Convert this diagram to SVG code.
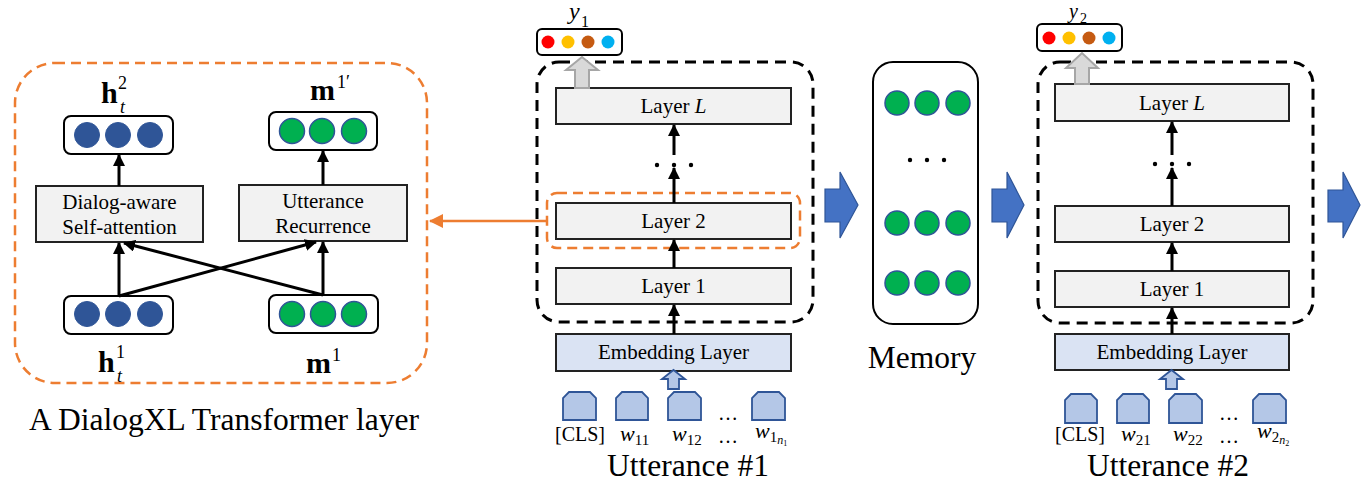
<svg xmlns="http://www.w3.org/2000/svg" width="1372" height="492" viewBox="0 0 1372 492" font-family="'Liberation Serif', 'DejaVu Serif', serif">
  <style>
    text { font-family: 'Liberation Serif', 'DejaVu Serif', serif; fill: #000; }
    .lbl { font-size: 21px; text-anchor: middle; }
    .big { font-size: 31.5px; text-anchor: middle; }
    .math { font-size: 30px; font-weight: bold; }
    .sup { font-size: 18px; font-weight: normal; }
    .vec { fill: #fff; stroke: #000; stroke-width: 2; }
    .layer { fill: #f2f2f2; stroke: #222; stroke-width: 2; }
    .embed { fill: #dae3f3; stroke: #222; stroke-width: 2; }
    .blue { fill: #2f5597; stroke: #2f5597; }
    .green { fill: #00b050; stroke: #2f5597; stroke-width: 1.5; }
    .token { fill: #b4c7e7; stroke: #2f5597; stroke-width: 1.8; }
    .conn { stroke: #000; stroke-width: 3; fill: none; marker-end: url(#ah); }
    .dash-o { fill: none; stroke: #ed7d31; stroke-width: 2.5; stroke-dasharray: 10 6; }
    .dash-k { fill: none; stroke: #000; stroke-width: 3; stroke-dasharray: 11 7; }
    .flow { fill: #4472c4; stroke: #2f5597; stroke-width: 1.2; }
    .gray { fill: #d9d9d9; stroke: #a6a6a6; stroke-width: 2; }
  </style>
  <defs>
    <marker id="ah" markerUnits="userSpaceOnUse" markerWidth="12" markerHeight="12" refX="11" refY="6" orient="auto">
      <path d="M0,0 L12,6 L0,12 Z" fill="#000"/>
    </marker>
    <marker id="ah-o" markerUnits="userSpaceOnUse" markerWidth="14" markerHeight="14" refX="13" refY="7" orient="auto">
      <path d="M0,0 L14,7 L0,14 Z" fill="#ed7d31"/>
    </marker>
  </defs>

  <!-- DialogXL transformer layer detail -->
  <g id="layer-detail">
    <rect class="dash-o" x="15" y="63" width="412" height="320" rx="40"/>
    <text class="big" x="224" y="430" font-size="32">A DialogXL Transformer layer</text>
  </g>

  <g id="h2">
    <rect class="vec" x="64" y="116" width="109" height="38" rx="7"/>
    <circle class="blue" cx="87" cy="135" r="12.5"/>
    <circle class="blue" cx="118" cy="135" r="12.5"/>
    <circle class="blue" cx="150" cy="135" r="12.5"/>
    <text class="math" x="101" y="103">h</text>
    <text class="sup" x="118" y="89">2</text>
    <text class="sup" x="120" y="113" font-style="italic">t</text>
  </g>

  <g id="m1p">
    <rect class="vec" x="269" y="112" width="108" height="38" rx="7"/>
    <circle class="green" cx="292" cy="131" r="12.5"/>
    <circle class="green" cx="322" cy="131" r="12.5"/>
    <circle class="green" cx="354" cy="131" r="12.5"/>
    <text class="math" x="310" y="100">m</text>
    <text class="sup" x="337" y="88">1′</text>
  </g>

  <g id="self-attn">
    <rect class="layer" x="36" y="186" width="167" height="56"/>
    <text class="lbl" x="119.5" y="209">Dialog-aware</text>
    <text class="lbl" x="119.5" y="234">Self-attention</text>
  </g>

  <g id="recurrence">
    <rect class="layer" x="239" y="185" width="168" height="56"/>
    <text class="lbl" x="323" y="208">Utterance</text>
    <text class="lbl" x="323" y="233">Recurrence</text>
  </g>

  <g id="h1">
    <rect class="vec" x="64" y="296" width="109" height="38" rx="7"/>
    <circle class="blue" cx="87" cy="314" r="12.5"/>
    <circle class="blue" cx="118" cy="314" r="12.5"/>
    <circle class="blue" cx="150" cy="314" r="12.5"/>
    <text class="math" x="98" y="372">h</text>
    <text class="sup" x="116" y="358">1</text>
    <text class="sup" x="117" y="382" font-style="italic">t</text>
  </g>

  <g id="m1">
    <rect class="vec" x="269" y="295" width="109" height="38" rx="7"/>
    <circle class="green" cx="292" cy="314" r="12.5"/>
    <circle class="green" cx="323" cy="314" r="12.5"/>
    <circle class="green" cx="354" cy="314" r="12.5"/>
    <text class="math" x="306" y="373">m</text>
    <text class="sup" x="332" y="361">1</text>
  </g>

  <!-- Utterance #1 encoder -->
  <g id="y1">
    <rect class="vec" x="537" y="29" width="85" height="26" rx="5"/>
    <circle cx="548" cy="42" r="6.5" fill="#ff0000"/>
    <circle cx="568" cy="42" r="6.5" fill="#ffc000"/>
    <circle cx="588" cy="42" r="6.5" fill="#c55a11"/>
    <circle cx="608" cy="42" r="6.5" fill="#00b0f0"/>
    <text x="569" y="19" font-size="24" font-style="italic">y</text>
    <text x="581" y="27" font-size="16">1</text>
  </g>
  <g id="stack1">
    <rect class="dash-k" x="537" y="62" width="276" height="260" rx="22"/>
    <rect class="dash-o" x="547" y="193" width="253" height="55" rx="10"/>
  </g>
  <g id="layerL-1">
    <rect class="layer" x="556" y="88" width="235" height="36"/>
    <text class="lbl" x="673.5" y="113">Layer <tspan font-style="italic">L</tspan></text>
  </g>
  <g id="layer2-1">
    <rect class="layer" x="556" y="203" width="235" height="36"/>
    <text class="lbl" x="673.5" y="228">Layer 2</text>
  </g>
  <g id="layer1-1">
    <rect class="layer" x="556" y="268" width="235" height="36"/>
    <text class="lbl" x="673.5" y="293">Layer 1</text>
  </g>
  <g id="embed-1">
    <rect class="embed" x="556" y="334" width="235" height="37"/>
    <text class="lbl" x="673.5" y="359">Embedding Layer</text>
  </g>
  <g id="tokens-1">
    <path class="token" d="M563,420 V398 L569,392 H590 L596,398 V420 Z"/>
    <path class="token" d="M616,420 V398 L622,392 H642 L648,398 V420 Z"/>
    <path class="token" d="M668,420 V398 L674,392 H695 L701,398 V420 Z"/>
    <path class="token" d="M752,420 V398 L758,392 H779 L785,398 V420 Z"/>
    <text x="728" y="420" font-size="20" text-anchor="middle">…</text>
    <text x="728" y="443" font-size="20" text-anchor="middle">…</text>
    <text x="580" y="441" font-size="20" text-anchor="middle">[CLS]</text>
    <text x="620" y="441" font-size="22" font-style="italic">w<tspan font-size="15" font-style="normal" dy="4">11</tspan></text>
    <text x="672" y="441" font-size="22" font-style="italic">w<tspan font-size="15" font-style="normal" dy="4">12</tspan></text>
    <text x="755" y="438" font-size="22" font-style="italic">w<tspan font-size="15" font-style="normal" dy="4">1</tspan><tspan font-size="12" dy="2">n</tspan><tspan font-size="8" font-style="normal" dy="2">1</tspan></text>
    <text class="big" x="688" y="476">Utterance #1</text>
  </g>

  <!-- Memory -->
  <g id="memory">
    <rect class="vec" x="873" y="62" width="105" height="262" rx="20"/>
    <circle class="green" cx="897" cy="103" r="12"/>
    <circle class="green" cx="927" cy="103" r="12"/>
    <circle class="green" cx="958" cy="103" r="12"/>
    <circle cx="910" cy="160" r="2.2"/>
    <circle cx="927" cy="160" r="2.2"/>
    <circle cx="944" cy="160" r="2.2"/>
    <circle class="green" cx="897" cy="223" r="12"/>
    <circle class="green" cx="927" cy="223" r="12"/>
    <circle class="green" cx="958" cy="223" r="12"/>
    <circle class="green" cx="897" cy="283" r="12"/>
    <circle class="green" cx="927" cy="283" r="12"/>
    <circle class="green" cx="958" cy="283" r="12"/>
    <text class="big" x="922" y="368">Memory</text>
  </g>

  <!-- Utterance #2 encoder -->
  <g id="y2">
    <rect class="vec" x="1037" y="24" width="85" height="27" rx="5"/>
    <circle cx="1049" cy="38" r="6.5" fill="#ff0000"/>
    <circle cx="1069" cy="38" r="6.5" fill="#ffc000"/>
    <circle cx="1089" cy="38" r="6.5" fill="#c55a11"/>
    <circle cx="1109" cy="38" r="6.5" fill="#00b0f0"/>
    <text x="1069" y="18" font-size="20" font-style="italic">y</text>
    <text x="1080" y="23" font-size="14">2</text>
  </g>
  <g id="stack2">
    <rect class="dash-k" x="1038" y="62" width="275" height="261" rx="22"/>
  </g>
  <g id="layerL-2">
    <rect class="layer" x="1055" y="84" width="234" height="37"/>
    <text class="lbl" x="1172" y="110">Layer <tspan font-style="italic">L</tspan></text>
  </g>
  <g id="layer2-2">
    <rect class="layer" x="1055" y="206" width="234" height="36"/>
    <text class="lbl" x="1172" y="231">Layer 2</text>
  </g>
  <g id="layer1-2">
    <rect class="layer" x="1055" y="271" width="234" height="36"/>
    <text class="lbl" x="1172" y="296">Layer 1</text>
  </g>
  <g id="embed-2">
    <rect class="embed" x="1055" y="334" width="234" height="36"/>
    <text class="lbl" x="1172" y="359">Embedding Layer</text>
  </g>
  <g id="tokens-2">
    <path class="token" d="M1065,423 V400 L1071,394 H1091 L1097,400 V423 Z"/>
    <path class="token" d="M1117,423 V400 L1123,394 H1143 L1149,400 V423 Z"/>
    <path class="token" d="M1169,423 V400 L1175,394 H1196 L1202,400 V423 Z"/>
    <path class="token" d="M1253,423 V400 L1259,394 H1280 L1286,400 V423 Z"/>
    <text x="1229" y="420" font-size="20" text-anchor="middle">…</text>
    <text x="1229" y="443" font-size="20" text-anchor="middle">…</text>
    <text x="1080" y="441" font-size="20" text-anchor="middle">[CLS]</text>
    <text x="1121" y="441" font-size="22" font-style="italic">w<tspan font-size="15" font-style="normal" dy="4">21</tspan></text>
    <text x="1173" y="441" font-size="22" font-style="italic">w<tspan font-size="15" font-style="normal" dy="4">22</tspan></text>
    <text x="1257" y="438" font-size="22" font-style="italic">w<tspan font-size="15" font-style="normal" dy="4">2</tspan><tspan font-size="12" dy="2">n</tspan><tspan font-size="8" font-style="normal" dy="2">2</tspan></text>
    <text class="big" x="1168" y="476">Utterance #2</text>
  </g>

  <!-- connectors -->
  <g id="connectors">
    <!-- inside the transformer layer -->
    <line class="conn" x1="119" y1="296" x2="119" y2="243"/>
    <line class="conn" x1="119" y1="296" x2="316" y2="242"/>
    <line class="conn" x1="323" y1="295" x2="124" y2="243"/>
    <line class="conn" x1="323" y1="295" x2="323" y2="242"/>
    <line class="conn" x1="119" y1="186" x2="119" y2="155"/>
    <line class="conn" x1="323" y1="185" x2="323" y2="151"/>
    <!-- detail callout -->
    <line x1="547" y1="221" x2="430" y2="221" stroke="#ed7d31" stroke-width="2.5" marker-end="url(#ah-o)"/>

    <!-- stack 1 -->
    <line class="conn" x1="674" y1="334" x2="674" y2="305"/>
    <line class="conn" x1="674" y1="268" x2="674" y2="240"/>
    <line class="conn" x1="674" y1="203" x2="674" y2="168"/>
    <line class="conn" x1="674" y1="155" x2="674" y2="125"/>
    <circle cx="657" cy="165" r="2.2"/>
    <circle cx="674" cy="165" r="2.2"/>
    <circle cx="691" cy="165" r="2.2"/>
    <path class="gray" d="M575,88 V70 H566 L582,57 L598,70 H589 V88 Z"/>
    <path class="token" d="M668,389 V379 H662 L673.5,370 L685,379 H679 V389 Z"/>

    <!-- stack 2 -->
    <line class="conn" x1="1172" y1="334" x2="1172" y2="308"/>
    <line class="conn" x1="1172" y1="271" x2="1172" y2="243"/>
    <line class="conn" x1="1172" y1="206" x2="1172" y2="168"/>
    <line class="conn" x1="1172" y1="155" x2="1172" y2="122"/>
    <circle cx="1155" cy="164" r="2.2"/>
    <circle cx="1172" cy="164" r="2.2"/>
    <circle cx="1189" cy="164" r="2.2"/>
    <path class="gray" d="M1075,84 V68 H1066 L1082,53 L1098,68 H1089 V84 Z"/>
    <path class="token" d="M1166,389 V379 H1160 L1171.5,370 L1183,379 H1177 V389 Z"/>

    <!-- flow between segments -->
    <path class="flow" d="M825,189 H840 V172 L858,205 L840,238 V222 H825 Z"/>
    <path class="flow" d="M992,189 H1007 V172 L1024,205 L1007,238 V222 H992 Z"/>
    <path class="flow" d="M1328,190 H1343 V172 L1360,205 L1343,238 V222 H1328 Z"/>
  </g>
</svg>
